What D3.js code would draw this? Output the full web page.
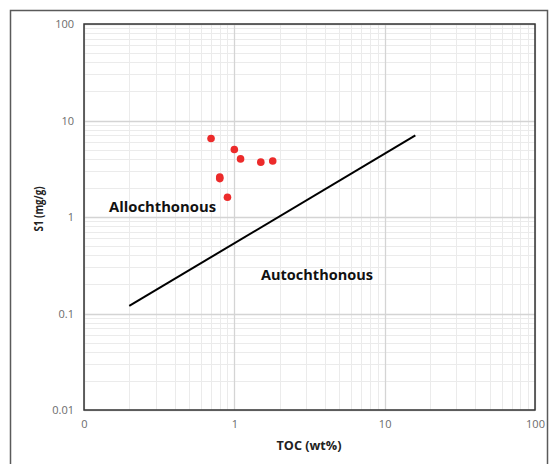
<!DOCTYPE html>
<html>
<head>
<meta charset="utf-8">
<script src="https://cdnjs.cloudflare.com/ajax/libs/d3/7.8.5/d3.min.js"></script>
<style>
  body { margin: 0; background: #fff; }
  svg { display: block; }
</style>
</head>
<body>
<div id="chart"></div>
<script>
'use strict'

// data
var tocValues = [0.7, 1.0, 1.1, 1.5, 1.8, 0.8, 0.8, 0.9];
var s1Values = [6.5, 5.0, 4.0, 3.7, 3.8, 2.6, 2.5, 1.6];
// dividing line between allochthonous and autochthonous
var lineToc = [0.2, 16];
var lineS1 = [0.12, 7];
var xTicks = [0.1, 1, 10, 100];
var xTickLabels = ['0', '1', '10', '100'];
var yTicks = [0.01, 0.1, 1, 10, 100];
var yTickLabels = ['0.01', '0.1', '1', '10', '100'];

const W = 549, H = 464;
const margin = { top: 24, right: 14, bottom: 54, left: 84 };
const width = 535 - margin.left;
const height = 410 - margin.top;

var svg = d3.select('#chart').append('svg')
  .attr('width', W)
  .attr('height', H)
  .style('font-family', '"Open Sans", "Liberation Sans", sans-serif');

// outer frame (bottom edge falls outside the picture)
svg.append('rect')
  .attr('x', 10.5).attr('y', 10.5)
  .attr('width', 537).attr('height', 470)
  .style('fill', 'none')
  .style('stroke', '#5a5a5a')
  .style('stroke-width', 1.5);

var g = svg.append('g')
  .attr('transform', 'translate(' + margin.left + ',' + margin.top + ')');

var xScale = d3.scaleLog().domain([0.1, 100]).range([0, width]);
var yScale = d3.scaleLog().domain([0.01, 100]).range([height, 0]);

// minor grid lines, 2..9 in each decade
function minors(domain) {
  var out = [];
  for (var p = Math.log10(domain[0]); p < Math.log10(domain[1]); p++) {
    for (var k = 2; k <= 9; k++) out.push(k * Math.pow(10, p));
  }
  return out;
}

g.append('g').selectAll('line')
  .data(minors(xScale.domain()))
  .enter().append('line')
  .attr('x1', d => Math.round(xScale(d)) + 0.5)
  .attr('x2', d => Math.round(xScale(d)) + 0.5)
  .attr('y1', 0).attr('y2', height)
  .style('stroke', '#ebebeb');

g.append('g').selectAll('line')
  .data(minors(yScale.domain()))
  .enter().append('line')
  .attr('y1', d => Math.round(yScale(d)) + 0.5)
  .attr('y2', d => Math.round(yScale(d)) + 0.5)
  .attr('x1', 0).attr('x2', width)
  .style('stroke', '#ebebeb');

// major grid lines
g.append('g').selectAll('line')
  .data(xTicks)
  .enter().append('line')
  .attr('x1', d => Math.round(xScale(d)) + 0.5)
  .attr('x2', d => Math.round(xScale(d)) + 0.5)
  .attr('y1', 0).attr('y2', height)
  .style('stroke', '#d4d4d4')
  .style('stroke-width', 1.3);

g.append('g').selectAll('line')
  .data(yTicks)
  .enter().append('line')
  .attr('y1', d => Math.round(yScale(d)) + 0.5)
  .attr('y2', d => Math.round(yScale(d)) + 0.5)
  .attr('x1', 0).attr('x2', width)
  .style('stroke', '#d4d4d4')
  .style('stroke-width', 1.3);

// plot border
g.append('rect')
  .attr('x', 0).attr('y', 0)
  .attr('width', width).attr('height', height)
  .style('fill', 'none')
  .style('stroke', '#333')
  .style('stroke-width', 1.5);

// axes (labels only, Excel style)
var xAxis = d3.axisBottom(xScale)
  .tickValues(xTicks)
  .tickFormat((d, i) => xTickLabels[i])
  .tickSize(0)
  .tickPadding(10);
var xGuide = g.append('g')
  .attr('transform', 'translate(0,' + height + ')')
  .call(xAxis);

var yAxis = d3.axisLeft(yScale)
  .tickValues(yTicks)
  .tickFormat((d, i) => yTickLabels[i])
  .tickSize(0)
  .tickPadding(10);
var yGuide = g.append('g').call(yAxis);

[xGuide, yGuide].forEach(function (guide) {
  guide.select('.domain').remove();
  guide.selectAll('text')
    .style('font-family', '"Open Sans", "Liberation Sans", sans-serif')
    .style('font-size', '11px')
    .style('fill', '#6b6b6b');
});

// dividing line
var lineData = lineToc.map((d, i) => [d, lineS1[i]]);
g.append('path')
  .datum(lineData)
  .attr('d', d3.line().x(d => xScale(d[0])).y(d => yScale(d[1])))
  .style('fill', 'none')
  .style('stroke', '#000')
  .style('stroke-width', 2);

// samples
var points = tocValues.map((d, i) => ({ toc: d, s1: s1Values[i] }));
g.append('g').selectAll('circle')
  .data(points)
  .enter().append('circle')
  .attr('cx', d => xScale(d.toc))
  .attr('cy', d => yScale(d.s1))
  .attr('r', 3.8)
  .style('fill', '#ec2b2b');

// region labels
svg.append('text')
  .attr('x', 109).attr('y', 212)
  .attr('textLength', 107).attr('lengthAdjust', 'spacingAndGlyphs')
  .style('font-size', '15px').style('font-weight', 'bold')
  .style('fill', '#111')
  .text('Allochthonous');

svg.append('text')
  .attr('x', 261).attr('y', 280)
  .attr('textLength', 112).attr('lengthAdjust', 'spacingAndGlyphs')
  .style('font-size', '15px').style('font-weight', 'bold')
  .style('fill', '#111')
  .text('Autochthonous');

// axis titles
svg.append('text')
  .attr('x', 309).attr('y', 450)
  .attr('text-anchor', 'middle')
  .attr('textLength', 65).attr('lengthAdjust', 'spacingAndGlyphs')
  .style('font-size', '13px').style('font-weight', 'bold')
  .style('fill', '#222')
  .text('TOC (wt%)');

svg.append('text')
  .attr('transform', 'translate(43,209) rotate(-90)')
  .attr('text-anchor', 'middle')
  .attr('textLength', 45).attr('lengthAdjust', 'spacingAndGlyphs')
  .style('font-size', '13px').style('font-weight', 'bold')
  .style('fill', '#222')
  .text('S1 (mg/g)');
</script>
</body>
</html>
